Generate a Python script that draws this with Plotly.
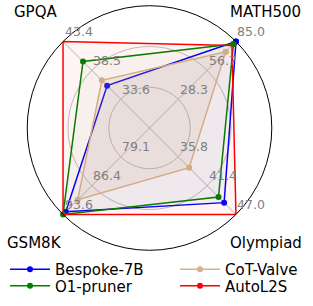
import math
import plotly.graph_objects as go

# ---- data ----
axes_names = ["MATH500", "GPQA", "GSM8K", "Olympiad"]
axes_angles = [45, 135, 225, 315]
axis_lo = [0.0, 28.7, 71.85, 30.2]
axis_hi = [85.0, 43.4, 93.6, 47.0]
tick_levels = [1 / 3, 2 / 3, 1.0]
tick_labels = [
    ["28.3", "56.7", "85.0"],
    ["33.6", "38.5", "43.4"],
    ["79.1", "86.4", "93.6"],
    ["35.8", "41.4", "47.0"],
]

bespoke = [85.0, 35.9, 92.9, 44.7]
o1_pruner = [82.5, 40.0, 93.6, 43.6]
cot_valve = [74.9, 36.8, 89.9, 37.9]
autol2s = [81.0, 43.4, 93.6, 47.0]

series = [
    ("Bespoke-7B", bespoke, "#0000ff", "rgba(0,0,255,0.03)", True),
    ("O1-pruner", o1_pruner, "#008000", "rgba(0,128,0,0.03)", True),
    ("CoT-Valve", cot_valve, "#d2b48c", "rgba(210,180,140,0.15)", True),
    ("AutoL2S", autol2s, "#ff0000", "rgba(255,0,0,0.045)", False),
]


def norm(vals):
    return [(v - lo) / (hi - lo) for v, lo, hi in zip(vals, axis_lo, axis_hi)]


fig = go.Figure()
FONT = "DejaVu Sans"
W, H = 313, 306
cx, cy, R = 149.5, 128.0, 122.3

for name, vals, color, fillc, show_markers in series:
    r = norm(vals)
    fig.add_trace(go.Scatterpolar(
        r=r + r[:1], theta=axes_angles + axes_angles[:1],
        mode="lines+markers" if show_markers else "lines",
        line=dict(color=color, width=1.5),
        marker=dict(size=6, color=color),
        fill="toself", fillcolor=fillc,
        name=name, showlegend=False, cliponaxis=False, hoverinfo="skip",
    ))

# legend entries: 2 columns, matplotlib column-wise order
legend_slots = [("legend", 0, 0, 0), ("legend2", 1, 0, 1), ("legend3", 2, 1, 0), ("legend4", 3, 1, 1)]
col_x = [5, 175]
row_y = [269.5, 286]
for lg, i, col, row in legend_slots:
    name, vals, color, fillc, _ = series[i]
    fig.add_trace(go.Scatterpolar(
        r=[None], theta=[None], mode="lines+markers",
        line=dict(color=color, width=1.5), marker=dict(size=6, color=color),
        name=name, showlegend=True, legend=lg,
    ))

legend_layout = {}
for lg, i, col, row in legend_slots:
    legend_layout[lg] = dict(
        x=col_x[col] / W, xanchor="left", y=1 - row_y[row] / H, yanchor="middle",
        font=dict(size=15, family=FONT), itemwidth=40, bgcolor="rgba(0,0,0,0)",
        borderwidth=0,
    )

fig.update_layout(
    width=W, height=H,
    margin=dict(l=0, r=0, t=0, b=0, autoexpand=False),
    paper_bgcolor="white",
    font=dict(family=FONT, color="black"),
    polar=dict(
        domain=dict(x=[(cx - R) / W, (cx + R) / W], y=[1 - (cy + R) / H, 1 - (cy - R) / H]),
        bgcolor="rgba(0,0,0,0)",
        radialaxis=dict(range=[0, 1], tickvals=tick_levels[:2], showticklabels=False,
                        ticks="", showline=False, gridcolor="#c0c0c0", gridwidth=0.8),
        angularaxis=dict(thetaunit="degrees", rotation=0, direction="counterclockwise",
                         tickvals=axes_angles, showticklabels=False, ticks="",
                         showline=True, linecolor="black", linewidth=1,
                         gridcolor="#b8b8b8", gridwidth=0.8),
    ),
    showlegend=True,
    **legend_layout,
)

# radial tick labels along each spoke
for k, ang in enumerate(axes_angles):
    for lev, lab in zip(tick_levels, tick_labels[k]):
        px = cx + R * lev * math.cos(math.radians(ang))
        py = cy - R * lev * math.sin(math.radians(ang))
        fig.add_annotation(x=(px + 0.5) / W, y=1 - (py - 1.5) / H, xref="paper", yref="paper",
                           text=lab, showarrow=False, xanchor="left", yanchor="bottom",
                           borderpad=0,
                           font=dict(size=12.5, family=FONT, color="#808080"))

label_pos = {"GPQA": (35, 12), "MATH500": (265, 12), "GSM8K": (34.5, 243), "Olympiad": (265.5, 243)}
for name in axes_names:
    px, py = label_pos[name]
    fig.add_annotation(x=px / W, y=1 - py / H, xref="paper", yref="paper", text=name,
                       showarrow=False, font=dict(size=15, family=FONT, color="black"),
                       xanchor="center", yanchor="middle")

fig.write_html("out.html", config={"displayModeBar": False},
               post_script="document.body.style.margin='0';")
